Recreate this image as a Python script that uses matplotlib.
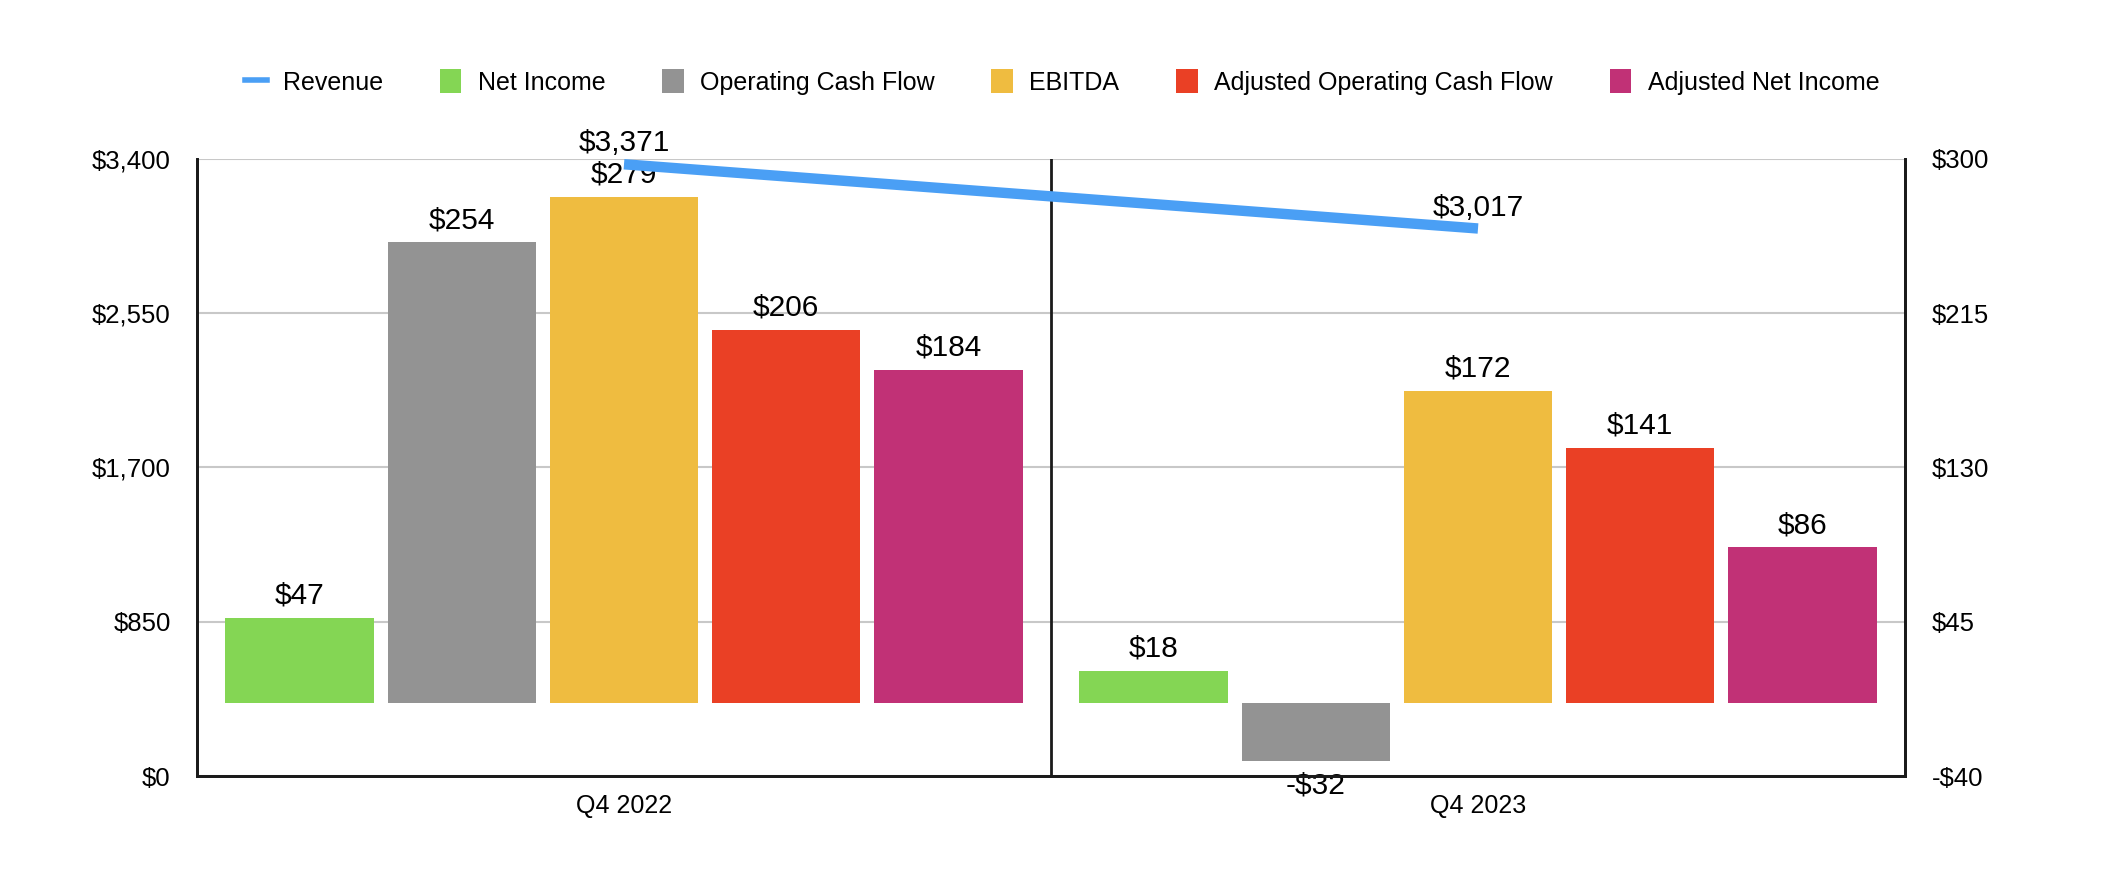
import matplotlib.pyplot as plt
from matplotlib.lines import Line2D
import numpy as np

plt.rcParams['font.family'] = ['Liberation Sans', 'DejaVu Sans']

# data
quarters = ['Q4 2022', 'Q4 2023']
revenue = [3371, 3017]
series = ['Net Income', 'Operating Cash Flow', 'EBITDA',
          'Adjusted Operating Cash Flow', 'Adjusted Net Income']
values = {
    'Net Income': [47, 18],
    'Operating Cash Flow': [254, -32],
    'EBITDA': [279, 172],
    'Adjusted Operating Cash Flow': [206, 141],
    'Adjusted Net Income': [184, 86],
}
colors = ['#84D654', '#939393', '#EFBC40', '#EA4025', '#C13176']
left_ticks = [0, 850, 1700, 2550, 3400]
right_ticks = [-40, 45, 130, 215, 300]

fig = plt.figure(figsize=(21.08, 8.84), dpi=100)
ax = fig.add_axes([197/2108, 1-776/884, (1905-197)/2108, (776-159)/884])
ax2 = ax.twinx()
ax.set_zorder(ax2.get_zorder() + 1)
ax.patch.set_visible(False)

x = np.arange(len(quarters))
width = 0.1735
step = 0.19

# bars on right axis
handles = []
for i, name in enumerate(series):
    pos = x + (i - 2) * step
    b = ax2.bar(pos, values[name], width, color=colors[i], label=name, zorder=2)
    handles.append(b)
    for px, v in zip(pos, values[name]):
        if v >= 0:
            ax2.annotate(f'${v}', (px, v), xytext=(0, 6), textcoords='offset points',
                         ha='center', va='bottom', fontsize=21.5)
        else:
            ax2.annotate(f'-${abs(v)}', (px, v), xytext=(0, -7), textcoords='offset points',
                         ha='center', va='top', fontsize=21.5)

ax2.set_ylim(-40, 300)
ax2.set_yticks(right_ticks)
ax2.set_yticklabels([f'${t}' if t >= 0 else f'-${abs(t)}' for t in right_ticks])
ax2.grid(axis='y', color='#C8C8C8', linewidth=1.5, zorder=0)
ax2.set_axisbelow(True)

# revenue line on left axis
ax.plot(x, revenue, color='#4A9FF5', linewidth=7.5, solid_capstyle='butt', zorder=3)
for px, v in zip(x, revenue):
    ax.annotate(f'${v:,}', (px, v), xytext=(0, 5), textcoords='offset points',
                ha='center', va='bottom', fontsize=21.5)

ax.set_ylim(0, 3400)
ax.set_yticks(left_ticks)
ax.set_yticklabels([f'${t:,}' for t in left_ticks])
ax.set_xlim(-0.5, 1.5)
ax.set_xticks(x)
ax.set_xticklabels(quarters)
ax.axvline(0.5, color='#1a1a1a', linewidth=2)

for a in (ax, ax2):
    a.tick_params(length=0, labelsize=18.5)
    a.spines['top'].set_visible(False)
    for s in ('left', 'right', 'bottom'):
        a.spines[s].set_color('#1a1a1a')
        a.spines[s].set_linewidth(2)
ax.tick_params(axis='y', pad=19)
ax2.tick_params(axis='y', pad=19)
ax.tick_params(axis='x', pad=13, labelsize=18)

rev_handle = Line2D([], [], color='#4A9FF5', linewidth=4)
fig.legend([rev_handle] + handles, ['Revenue'] + series,
           loc='center', bbox_to_anchor=(1062/2108, 1-82/884), ncol=6,
           frameon=False, fontsize=18, handlelength=0.87, handleheight=1.1,
           handletextpad=0.65, columnspacing=2.27)

fig.savefig('out.png', dpi=100)
